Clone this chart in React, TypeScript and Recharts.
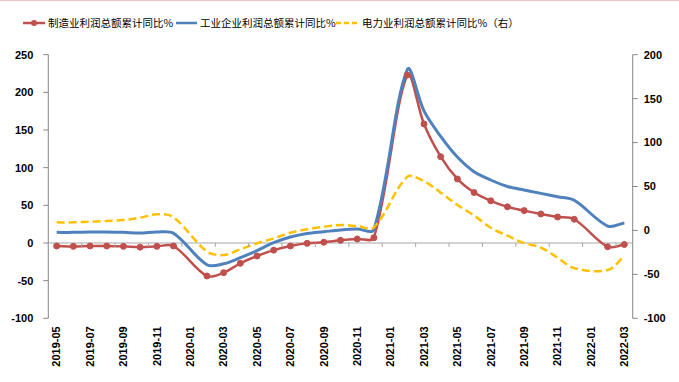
import React from 'react';
import { LineChart, Line, XAxis, YAxis, ReferenceLine } from 'recharts';

const months = ['2019-05','2019-06','2019-07','2019-08','2019-09','2019-10','2019-11','2019-12','2020-01','2020-02','2020-03','2020-04','2020-05','2020-06','2020-07','2020-08','2020-09','2020-10','2020-11','2020-12','2021-01','2021-02','2021-03','2021-04','2021-05','2021-06','2021-07','2021-08','2021-09','2021-10','2021-11','2021-12','2022-01','2022-02','2022-03'];

// 制造业利润总额累计同比% (left axis)
const manufacturing = [-4, -4.5, -4, -4, -4.5, -5.5, -4.5, -4, null, -43.8, -39.4, -27, -17.3, -9.5, -4, -0.5, 1, 3.5, 5.3, 7, null, 223, 158, 114.6, 85, 67, 56, 48, 43, 38.5, 34.5, 31.5, null, -5, -2];
// 工业企业利润总额累计同比% (plotted on right axis scale)
const industrial = [-2.2, -2.2, -1.8, -1.8, -2.2, -3, -1.8, -3.3, null, -39, -38, -31, -23, -14, -7.5, -3.5, -1.5, 0.5, 1.5, 1, null, 183, 136, 107, 83.5, 66.8, 57.4, 50, 46, 42.2, 38.4, 34.3, null, 5, 8.5];
// 电力业利润总额累计同比%（右）
const power = [9.2, 9.2, 10, 10.7, 11.8, 14.5, 18.5, 15, null, -24, -28, -21.5, -14.7, -9, -2.6, 1.3, 4.2, 6.1, 5, 3.5, null, 61, 56, 43, 29, 17, 3, -6, -14.5, -19.5, -31, -43, null, -45, -29];

const leftTicks = [-100, -50, 0, 50, 100, 150, 200, 250];
const rightTicks = [-100, -50, 0, 50, 100, 150, 200];
const LEFT_DOMAIN: [number, number] = [-100, 250];
const RIGHT_DOMAIN: [number, number] = [-100, 200];

const legendNames = ['制造业利润总额累计同比%', '工业企业利润总额累计同比%', '电力业利润总额累计同比%（右）'];

const RED = '#C0504D';
const BLUE = '#4F81BD';
const YELLOW = '#FFC000';

const W = 679;
const H = 382;
const PLOT_LEFT = 48.3;
const PLOT_RIGHT = 632.7;
const PLOT_TOP = 54.7;
const PLOT_BOTTOM = 318.3;
const BAND = (PLOT_RIGHT - PLOT_LEFT) / months.length;

const data = months.map((m, i) => ({
  month: m,
  mfg: manufacturing[i],
  ind: industrial[i],
  pwr: power[i],
}));

// Excel-like smoothed line: chord-length weighted Bezier tangents
function excelCurve(context: any) {
  let pts: number[][] = [];
  const dist = (a: number[], b: number[]) => Math.hypot(b[0] - a[0], b[1] - a[1]);
  return {
    areaStart() {},
    areaEnd() {},
    lineStart() { pts = []; },
    point(x: number, y: number) { pts.push([+x, +y]); },
    lineEnd() {
      if (!pts.length) return;
      context.moveTo(pts[0][0], pts[0][1]);
      for (let i = 0; i < pts.length - 1; i++) {
        const p0 = pts[i - 1] || pts[i];
        const p1 = pts[i];
        const p2 = pts[i + 1];
        const p3 = pts[i + 2] || pts[i + 1];
        const d01 = dist(p0, p1);
        const d12 = dist(p1, p2);
        const d23 = dist(p2, p3);
        const f1 = d01 + d12 > 0 ? d12 / (d01 + d12) / 3 : 0;
        const f2 = d12 + d23 > 0 ? d12 / (d12 + d23) / 3 : 0;
        const c1x = p1[0] + (p2[0] - p0[0]) * f1;
        const c1y = p1[1] + (p2[1] - p0[1]) * f1;
        const c2x = p2[0] - (p3[0] - p1[0]) * f2;
        const c2y = p2[1] - (p3[1] - p1[1]) * f2;
        context.bezierCurveTo(c1x, c1y, c2x, c2y, p2[0], p2[1]);
      }
    },
  };
}

const FONT = '"Liberation Sans", Arial, sans-serif';

function XTick(props: any) {
  const { x, y, payload } = props;
  const zeroY = PLOT_TOP + (PLOT_BOTTOM - PLOT_TOP) * (LEFT_DOMAIN[1] / (LEFT_DOMAIN[1] - LEFT_DOMAIN[0]));
  const tx = x - BAND / 2;
  return (
    <g>
      <line x1={tx} x2={tx} y1={zeroY} y2={zeroY + 4} stroke="#A6A6A6" strokeWidth={1} />
      <text
        x={x}
        y={y}
        transform={`rotate(-90, ${x}, ${y})`}
        textAnchor="end"
        dy="0.35em"
        fontSize={11}
        fontWeight="bold"
        fontFamily={FONT}
        fill="#000"
      >
        {payload.value}
      </text>
    </g>
  );
}

function Legend() {
  const textStyle: React.CSSProperties = {
    position: 'absolute',
    top: 16,
    fontFamily: '"Noto Sans CJK SC", sans-serif',
    fontSize: 10.5,
    lineHeight: '14px',
    color: '#000',
    whiteSpace: 'nowrap',
  };
  return (
    <div style={{ position: 'absolute', left: 0, top: 0, width: W, height: 40 }}>
      <svg style={{ position: 'absolute', left: 0, top: 0 }} width={W} height={40}>
        <line x1={23} x2={45} y1={23} y2={23} stroke={RED} strokeWidth={2.5} />
        <circle cx={34} cy={23} r={3} fill={RED} />
        <line x1={176} x2={197} y1={23} y2={23} stroke={BLUE} strokeWidth={2.5} />
        <line x1={336} x2={358} y1={23} y2={23} stroke={YELLOW} strokeWidth={2.5} strokeDasharray="5 3" />
      </svg>
      <div style={{ ...textStyle, left: 48 }}>{legendNames[0]}</div>
      <div style={{ ...textStyle, left: 200 }}>{legendNames[1]}</div>
      <div style={{ ...textStyle, left: 362 }}>{legendNames[2]}</div>
    </div>
  );
}

export default function App() {
  return (
    <div style={{ position: 'absolute', left: 0, top: 0, width: W, height: H, background: '#fff' }}>
      <div style={{ position: 'absolute', left: 0, top: 0, width: W, height: 1, background: '#F3C4C1' }} />
      <Legend />
      <LineChart
        width={W}
        height={H}
        data={data}
        margin={{ top: PLOT_TOP, right: 0, left: 0, bottom: 0 }}
        style={{ position: 'absolute', left: 0, top: 0 }}
      >
        <XAxis
          dataKey="month"
          interval={1}
          height={H - PLOT_BOTTOM}
          padding={{ left: BAND / 2, right: BAND / 2 }}
          axisLine={false}
          tickLine={false}
          tickSize={0}
          tickMargin={8}
          tick={<XTick />}
        />
        <YAxis
          yAxisId="left"
          domain={LEFT_DOMAIN}
          ticks={leftTicks}
          interval={0}
          width={PLOT_LEFT}
          axisLine={{ stroke: '#868686' }}
          tickLine={{ stroke: '#868686' }}
          tickSize={5}
          tickMargin={10}
          tick={{ fontSize: 11, fill: '#000', fontFamily: FONT, fontWeight: 'bold' }}
          allowDataOverflow
        />
        <YAxis
          yAxisId="right"
          orientation="right"
          domain={RIGHT_DOMAIN}
          ticks={rightTicks}
          interval={0}
          width={W - PLOT_RIGHT}
          axisLine={{ stroke: '#868686' }}
          tickLine={{ stroke: '#868686' }}
          tickSize={5}
          tickMargin={6}
          tick={{ fontSize: 11, fill: '#000', fontFamily: FONT, fontWeight: 'bold', textAnchor: 'start' }}
          allowDataOverflow
        />
        <ReferenceLine yAxisId="left" y={0} stroke="#A6A6A6" strokeWidth={1} />
        <Line
          yAxisId="left"
          dataKey="mfg"
          type={excelCurve as any}
          stroke={RED}
          strokeWidth={2.5}
          dot={{ r: 3, fill: RED, stroke: RED, strokeWidth: 1 }}
          activeDot={false}
          connectNulls
          isAnimationActive={false}
        />
        <Line
          yAxisId="right"
          dataKey="ind"
          type={excelCurve as any}
          stroke={BLUE}
          strokeWidth={3}
          dot={false}
          activeDot={false}
          connectNulls
          isAnimationActive={false}
        />
        <Line
          yAxisId="right"
          dataKey="pwr"
          type={excelCurve as any}
          stroke={YELLOW}
          strokeWidth={2.5}
          strokeDasharray="8 4"
          dot={false}
          activeDot={false}
          connectNulls
          isAnimationActive={false}
        />
      </LineChart>
    </div>
  );
}
